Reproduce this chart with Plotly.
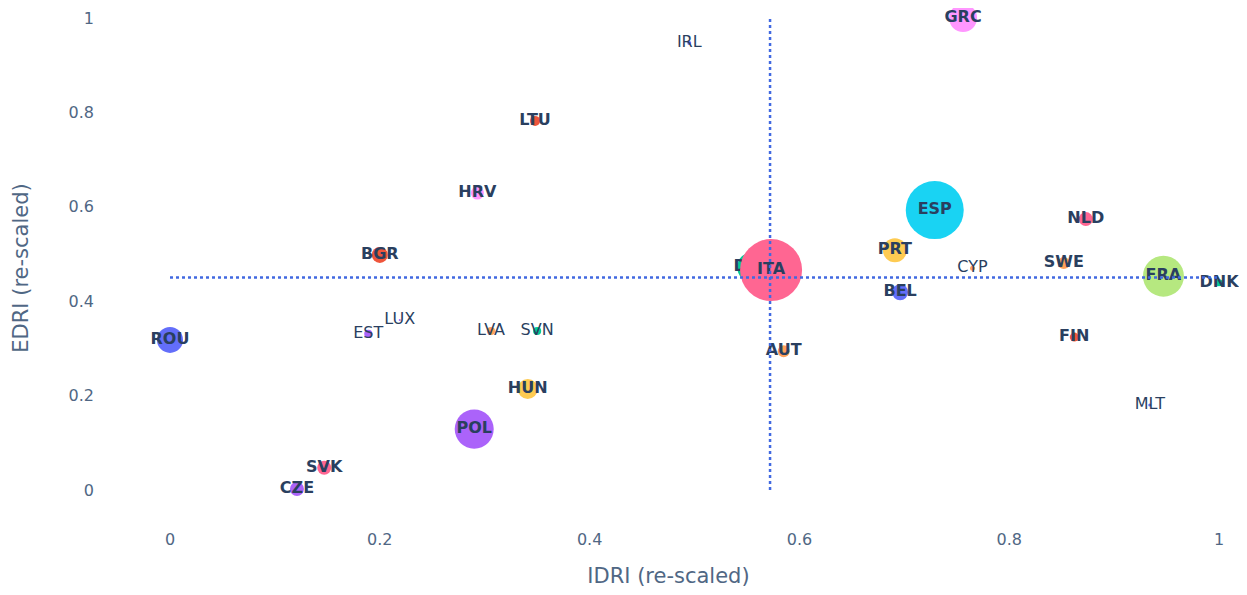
import plotly.graph_objects as go

countries = ["AUT", "BEL", "BGR", "CYP", "CZE", "DEU", "DNK", "ESP", "EST", "FIN",
             "FRA", "GRC", "HRV", "HUN", "IRL", "ITA", "LTU", "LUX", "LVA", "MLT",
             "NLD", "POL", "PRT", "ROU", "SVK", "SVN", "SWE"]
idri = [0.585, 0.696, 0.200, 0.765, 0.121, 0.555, 1.000, 0.729, 0.189, 0.862,
        0.947, 0.756, 0.293, 0.341, 0.495, 0.573, 0.348, 0.219, 0.306, 0.934,
        0.873, 0.290, 0.691, 0.000, 0.147, 0.350, 0.852]
edri = [0.294, 0.419, 0.498, 0.470, 0.002, 0.472, 0.439, 0.593, 0.331, 0.324,
        0.453, 1.000, 0.629, 0.214, 0.947, 0.466, 0.782, 0.360, 0.337, 0.180,
        0.574, 0.129, 0.508, 0.318, 0.047, 0.337, 0.481]
weight = [3.7, 6.7, 6.7, 0.65, 5.1, 23.4, 1.3, 87.5, 1.7, 2.1,
          43.7, 20.4, 4.4, 10.4, 0.4, 100.0, 2.6, 0.1, 1.7, 0.25,
          5.1, 39.6, 15.0, 17.6, 5.1, 1.7, 3.7]
tick_values = [0, 0.2, 0.4, 0.6, 0.8, 1]
tick_labels = ["0", "0.2", "0.4", "0.6", "0.8", "1"]

x_threshold = 0.572
y_threshold = 0.45

# styling (kept apart from the data)
color_map = {
    "AUT": "#FFA15A", "BEL": "#636EFA", "BGR": "#EF553B", "CYP": "#FFA15A", "CZE": "#AB63FA",
    "DEU": "#00CC96", "DNK": "#00CC96", "ESP": "#19D3F3", "EST": "#AB63FA", "FIN": "#EF553B",
    "FRA": "#B6E880", "GRC": "#FF97FF", "HRV": "#FF97FF", "HUN": "#FECB52", "IRL": "#636EFA",
    "ITA": "#FF6692", "LTU": "#EF553B", "LUX": "#AB63FA", "LVA": "#FFA15A", "MLT": "#636EFA",
    "NLD": "#FF6692", "POL": "#AB63FA", "PRT": "#FECB52", "ROU": "#636EFA", "SVK": "#FF6692",
    "SVN": "#00CC96", "SWE": "#FFA15A",
}
regular_labels = {"CYP", "EST", "IRL", "LUX", "LVA", "MLT", "SVN"}

max_diameter = 62
sizeref = 2.0 * max(weight) / (max_diameter ** 2)
FONT = "DejaVu Sans, Verdana, sans-serif"

fig = go.Figure()
for c, x, y, w in zip(countries, idri, edri, weight):
    fig.add_trace(go.Scatter(
        x=[x], y=[y], mode="markers+text", text=[c], name=c,
        textposition="middle center",
        textfont=dict(family=FONT, size=16, color="#2a3f5f",
                      weight="normal" if c in regular_labels else "bold"),
        marker=dict(size=[w], sizemode="area", sizeref=sizeref, sizemin=0,
                    color=color_map[c], opacity=1, line=dict(width=0)),
        showlegend=False,
    ))

line_style = dict(color="#4169E1", width=2.5, dash="dot")
fig.add_shape(type="line", x0=x_threshold, x1=x_threshold, y0=0, y1=1,
              xref="x", yref="y", line=line_style, layer="above")
fig.add_shape(type="line", x0=0, x1=1, y0=y_threshold, y1=y_threshold,
              xref="x", yref="y", line=line_style, layer="above")

fig.update_layout(
    width=1247, height=595,
    margin=dict(l=87, r=13, t=0, b=75),
    plot_bgcolor="white", paper_bgcolor="white",
    font=dict(family=FONT, color="#506784"),
    xaxis=dict(title=dict(text="IDRI (re-scaled)", font=dict(size=21), standoff=20),
               range=[-0.0715, 1.0219], tickvals=tick_values, ticktext=tick_labels,
               showgrid=False, zeroline=False, showline=False,
               tickfont=dict(size=16)),
    yaxis=dict(title=dict(text="EDRI (re-scaled)", font=dict(size=21), standoff=34),
               range=[-0.0805, 1.0212], tickvals=tick_values, ticktext=tick_labels,
               showgrid=False, zeroline=False, showline=False,
               tickfont=dict(size=16)),
)

fig.write_html("out.html")
